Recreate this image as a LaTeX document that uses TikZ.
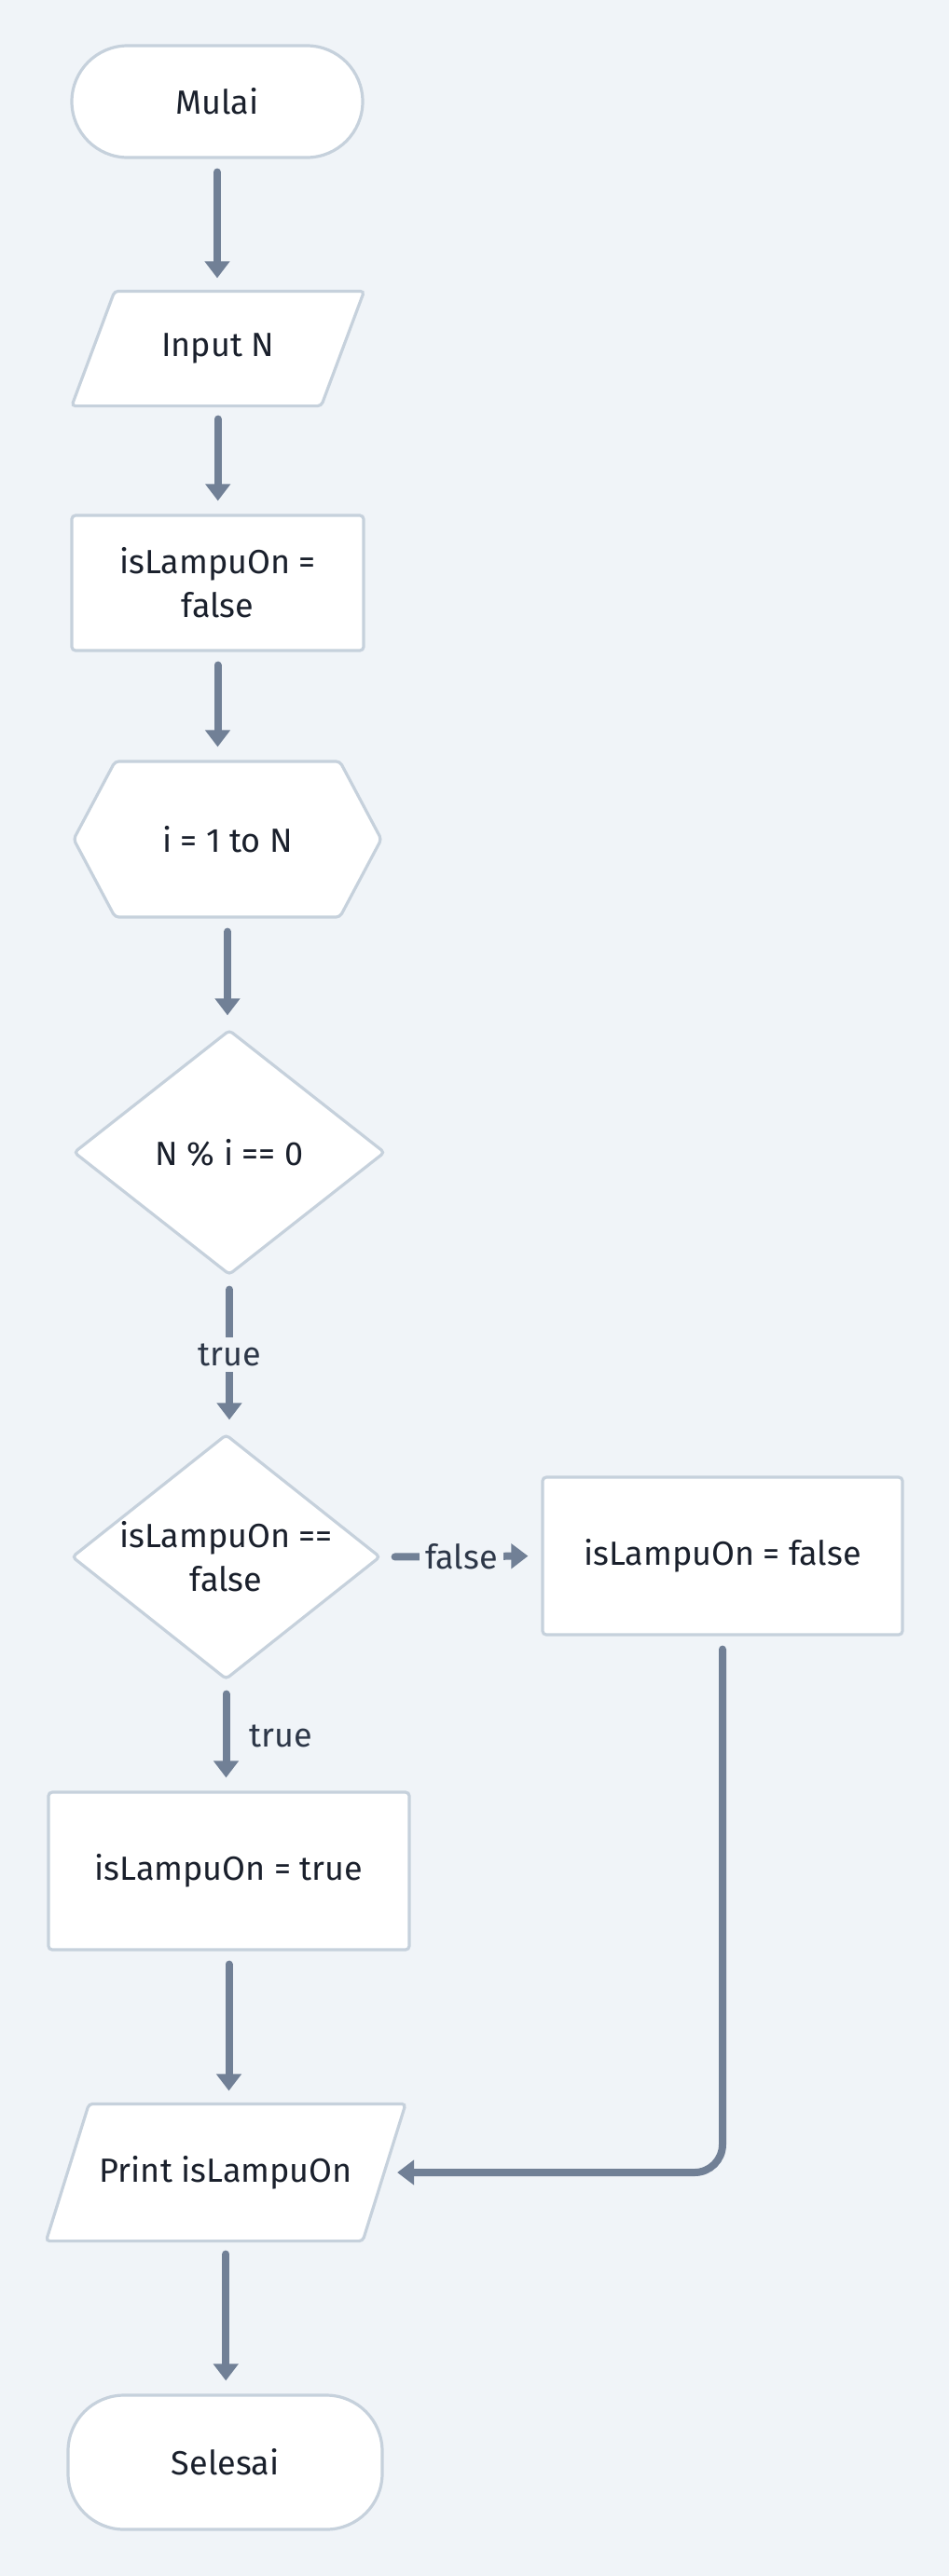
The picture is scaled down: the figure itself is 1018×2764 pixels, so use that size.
\documentclass[tikz,border=0pt]{standalone}
\usepackage{fontspec}
\setmainfont{Fira Sans}
\usetikzlibrary{shapes.geometric}
\usetikzlibrary{shapes.symbols}
\usetikzlibrary{arrows.meta}
\usetikzlibrary{backgrounds}

\definecolor{bgcol}{HTML}{F0F4F8}
\definecolor{edgecol}{HTML}{C6D1DC}
\definecolor{linkcol}{HTML}{718096}
\definecolor{txtcol}{HTML}{1A202C}
\definecolor{lblcol}{HTML}{2D3748}

\begin{document}
\begin{tikzpicture}[
        x=0.5pt, y=-0.5pt,
        >={Triangle[length=9pt,width=13pt]},
        box/.style={draw=edgecol, line width=1.6pt, fill=white, text=txtcol,
                    font=\fontsize{18}{23.5}\selectfont, align=center, inner sep=0pt},
        term/.style={box, rounded corners=30pt},
        proc/.style={box, rounded corners=2pt},
        io/.style={box, draw=none, fill=none},
        slab/.style={draw=edgecol, line width=1.6pt, fill=white, rounded corners=2pt},
        loopbox/.style={box, signal, signal to=west and east,
                        signal pointer angle=124, rounded corners=2pt},
        cond/.style={box, diamond, aspect=1.27, rounded corners=2pt},
        link/.style={draw=linkcol, line width=4pt, line cap=round, ->,
                     shorten <=7pt, shorten >=7pt},
        lbl/.style={text=lblcol, font=\fontsize{18}{23.5}\selectfont,
                    fill=bgcol, inner sep=3pt},
    ]
    \useasboundingbox (0,0) rectangle (1018,2764);

    \node[term, minimum width=156pt, minimum height=60pt] (mulai) at (233,109) {Mulai};
    \node[io, minimum width=132.25pt, minimum height=60pt] (input) at (233.75,374) {Input N};
    \node[proc, minimum width=156.5pt, minimum height=72.5pt] (init) at (233.5,625.5)
        {isLampuOn =\\false};
    \node[loopbox, minimum width=165pt, minimum height=83.5pt] (hex) at (244,900.5) {i = 1 to N};
    \node[cond, minimum width=167pt, minimum height=131.5pt] (cond1) at (246,1236.5) {N \% i == 0};
    \node[cond, minimum width=165.5pt, minimum height=131.5pt] (cond2) at (242.5,1670.5)
        {isLampuOn ==\\false};
    \node[proc, minimum width=193pt, minimum height=84.5pt] (setfalse) at (775,1669.5)
        {isLampuOn = false};
    \node[proc, minimum width=193.5pt, minimum height=84.5pt] (settrue) at (245.5,2007.5)
        {isLampuOn = true};
    \node[io, minimum width=168.25pt, minimum height=72pt] (print) at (242.25,2331)
        {Print isLampuOn};
    \node[term, minimum width=168.5pt, minimum height=72pt] (selesai) at (241.5,2642) {Selesai};

    \begin{scope}[on background layer]
        \fill[bgcol] (0,0) rectangle (1018,2764);
        \foreach \n in {input, print}
            \draw[slab] ([xshift=-11.5pt]\n.south west) -- ([xshift=11.5pt]\n.north west)
                -- ([xshift=11.5pt]\n.north east) -- ([xshift=-11.5pt]\n.south east) -- cycle;
    \end{scope}

    \foreach \a/\b in {mulai/input, input/init, init/hex, hex/cond1, settrue/print, print/selesai}
        \draw[link] (\a.south) -- (\a.south |- \b.north);

    \draw[link] (cond1.south) -- (cond1.south |- cond2.north)
        node[lbl, midway] (ltrue) {true};
    \draw[link] (cond2.east) -- (setfalse.west)
        node[lbl, midway] (lfalse) {false};
    \draw[link] (cond2.south) -- (cond2.south |- settrue.north)
        node[lbl, fill=none, midway, right=7.5pt] (ltrue2) {true};
    \draw[link, rounded corners=15pt] (setfalse.south) -- (setfalse.south |- print.east)
        -- (print.east);

    \end{tikzpicture}
\end{document}
